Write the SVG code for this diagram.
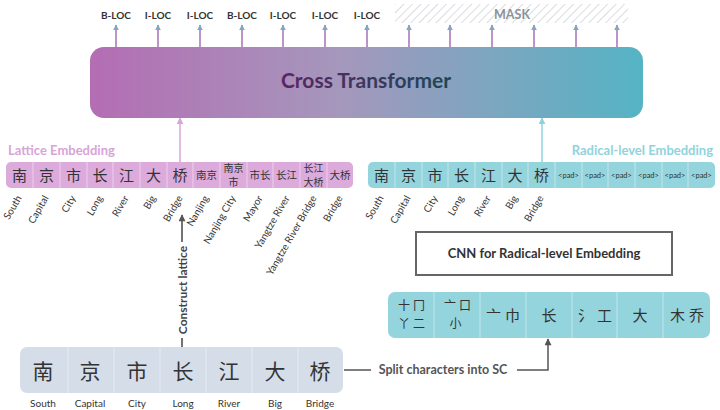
<svg xmlns="http://www.w3.org/2000/svg" width="720" height="410" viewBox="0 0 720 410">
<defs>
<linearGradient id="tfGrad" x1="0" y1="0" x2="1" y2="0">
<stop offset="0" stop-color="#b46db3"/>
<stop offset="0.45" stop-color="#a597bc"/>
<stop offset="1" stop-color="#54b4c4"/>
</linearGradient>
<linearGradient id="tfText" gradientUnits="userSpaceOnUse" x1="275" y1="0" x2="440" y2="0">
<stop offset="0" stop-color="#5e2463"/>
<stop offset="1" stop-color="#1f4658"/>
</linearGradient>
<pattern id="hatch" patternUnits="userSpaceOnUse" width="6" height="6" patternTransform="rotate(45)">
<line x1="0" y1="0" x2="0" y2="6" stroke="#cfd3d8" stroke-width="1.6"/>
</pattern>
<marker id="ahTop" viewBox="0 0 10 10" refX="9" refY="5" markerWidth="6" markerHeight="6" orient="auto" markerUnits="userSpaceOnUse">
<path d="M0,0 L10,5 L0,10 Z" fill="#7ea9bf"/>
</marker>
<marker id="ahPink" viewBox="0 0 10 10" refX="9" refY="5" markerWidth="7" markerHeight="7" orient="auto" markerUnits="userSpaceOnUse">
<path d="M0,0 L10,5 L0,10 Z" fill="#d9a6d8"/>
</marker>
<marker id="ahTeal" viewBox="0 0 10 10" refX="9" refY="5" markerWidth="7" markerHeight="7" orient="auto" markerUnits="userSpaceOnUse">
<path d="M0,0 L10,5 L0,10 Z" fill="#8fd3dc"/>
</marker>
<marker id="ahGrey" viewBox="0 0 10 10" refX="9" refY="5" markerWidth="8" markerHeight="7" orient="auto" markerUnits="userSpaceOnUse">
<path d="M0,0 L10,5 L0,10 Z" fill="#555"/>
</marker>
</defs>
<style>
text{font-family:Lato,"Noto Sans","Noto Sans CJK SC",sans-serif;fill:#333}
.cjk{font-family:"Noto Sans CJK SC",sans-serif;fill:#333;text-anchor:middle}
.tag{font-size:10px;font-weight:bold;text-anchor:middle}
.lab{font-size:10px;text-anchor:end}
.blab{font-size:10px;text-anchor:middle}
.grey{fill:#555;font-weight:bold}
.toparr{stroke:#a672b4;stroke-width:1.5;fill:none}
.div{stroke:#ffffff;stroke-opacity:0.45;stroke-width:1}
.pad{font-size:7.5px;text-anchor:middle}
</style>
<rect width="720" height="410" fill="#ffffff"/>

<g id="mask">
<rect x="395" y="4" width="233" height="19" fill="url(#hatch)"/>
<text x="512" y="19" font-size="12.5" font-weight="bold" text-anchor="middle" style="fill:#8c929a">MASK</text>
</g>

<g id="tags">
<text class="tag" x="116" y="19">B-LOC</text>
<text class="tag" x="158" y="19">I-LOC</text>
<text class="tag" x="200" y="19">I-LOC</text>
<text class="tag" x="242" y="19">B-LOC</text>
<text class="tag" x="283" y="19">I-LOC</text>
<text class="tag" x="325" y="19">I-LOC</text>
<text class="tag" x="367" y="19">I-LOC</text>
</g>

<g id="connectors">
<g class="toparr" marker-end="url(#ahTop)">
<line x1="116" y1="47" x2="116" y2="25"/>
<line x1="158" y1="47" x2="158" y2="25"/>
<line x1="200" y1="47" x2="200" y2="25"/>
<line x1="242" y1="47" x2="242" y2="25"/>
<line x1="283" y1="47" x2="283" y2="25"/>
<line x1="325" y1="47" x2="325" y2="25"/>
<line x1="367" y1="47" x2="367" y2="25"/>
<line x1="409" y1="47" x2="409" y2="25"/>
<line x1="450" y1="47" x2="450" y2="25"/>
<line x1="492" y1="47" x2="492" y2="25"/>
<line x1="534" y1="47" x2="534" y2="25"/>
<line x1="576" y1="47" x2="576" y2="25"/>
<line x1="617" y1="47" x2="617" y2="25"/>
</g>
<line x1="180" y1="162" x2="180" y2="118" stroke="#d9a6d8" stroke-width="1.5" marker-end="url(#ahPink)"/>
<line x1="542" y1="162" x2="542" y2="118" stroke="#8fd3dc" stroke-width="1.5" marker-end="url(#ahTeal)"/>
<line x1="182" y1="347" x2="182" y2="338" stroke="#444" stroke-width="1.5"/>
<line x1="182" y1="242" x2="182" y2="215" stroke="#444" stroke-width="1.5" marker-end="url(#ahGrey)"/>
<line x1="344" y1="370" x2="371" y2="370" stroke="#555" stroke-width="1.5"/>
<polyline points="517,370 548,370 548,339" fill="none" stroke="#555" stroke-width="1.5" marker-end="url(#ahGrey)"/>
</g>

<g id="transformer">
<rect x="90" y="47" width="553" height="71" rx="14" fill="url(#tfGrad)"/>
<text x="366" y="88" font-size="21" font-weight="bold" text-anchor="middle" style="fill:url(#tfText)">Cross Transformer</text>
</g>

<g id="lattice">
<text x="8" y="155" font-size="13" font-weight="bold" style="fill:#d7a5d6">Lattice Embedding</text>
<rect x="6" y="162" width="347" height="26" rx="5" fill="#dcaadb"/>
<g class="div">
<line x1="33" y1="162" x2="33" y2="188"/><line x1="60" y1="162" x2="60" y2="188"/><line x1="87" y1="162" x2="87" y2="188"/><line x1="113" y1="162" x2="113" y2="188"/><line x1="140" y1="162" x2="140" y2="188"/><line x1="167" y1="162" x2="167" y2="188"/><line x1="193" y1="162" x2="193" y2="188"/><line x1="220" y1="162" x2="220" y2="188"/><line x1="247" y1="162" x2="247" y2="188"/><line x1="273" y1="162" x2="273" y2="188"/><line x1="300" y1="162" x2="300" y2="188"/><line x1="327" y1="162" x2="327" y2="188"/>
</g>
<g font-size="15">
<text class="cjk" x="19.5" y="181">南</text><text class="cjk" x="46.5" y="181">京</text><text class="cjk" x="73.5" y="181">市</text><text class="cjk" x="100" y="181">长</text><text class="cjk" x="126.5" y="181">江</text><text class="cjk" x="153.5" y="181">大</text><text class="cjk" x="180" y="181">桥</text>
</g>
<g font-size="10.5">
<text class="cjk" x="206.5" y="179">南京</text>
<text class="cjk" x="260" y="179">市长</text>
<text class="cjk" x="286.5" y="179">长江</text>
<text class="cjk" x="340" y="179">大桥</text>
</g>
<g font-size="10">
<text class="cjk" x="233.5" y="172">南京<tspan x="233.5" dy="13.5">市</tspan></text>
<text class="cjk" x="313.5" y="172">长江<tspan x="313.5" dy="13.5">大桥</tspan></text>
</g>
<g>
<text class="lab" transform="translate(22,198) rotate(-60)">South</text>
<text class="lab" transform="translate(49,198) rotate(-60)">Capital</text>
<text class="lab" transform="translate(76,198) rotate(-60)">City</text>
<text class="lab" transform="translate(103,198) rotate(-60)">Long</text>
<text class="lab" transform="translate(129,198) rotate(-60)">River</text>
<text class="lab" transform="translate(156,198) rotate(-60)">Big</text>
<text class="lab" transform="translate(183,198) rotate(-60)">Bridge</text>
<text class="lab" transform="translate(209,198) rotate(-60)">Nanjing</text>
<text class="lab" transform="translate(236,198) rotate(-60)">Nanjing City</text>
<text class="lab" transform="translate(263,198) rotate(-60)">Mayor</text>
<text class="lab" transform="translate(290,198) rotate(-60)">Yangtze River</text>
<text class="lab" transform="translate(317,198) rotate(-60)">Yangtze River Bridge</text>
<text class="lab" transform="translate(343,198) rotate(-60)">Bridge</text>
</g>
</g>

<g id="radical">
<text x="713" y="155" font-size="13" font-weight="bold" text-anchor="end" style="fill:#8fd3dc">Radical-level Embedding</text>
<rect x="368" y="162" width="347" height="26" rx="5" fill="#94d4dc"/>
<g class="div">
<line x1="395" y1="162" x2="395" y2="188"/><line x1="422" y1="162" x2="422" y2="188"/><line x1="448" y1="162" x2="448" y2="188"/><line x1="475" y1="162" x2="475" y2="188"/><line x1="502" y1="162" x2="502" y2="188"/><line x1="528" y1="162" x2="528" y2="188"/><line x1="555" y1="162" x2="555" y2="188"/><line x1="582" y1="162" x2="582" y2="188"/><line x1="608" y1="162" x2="608" y2="188"/><line x1="635" y1="162" x2="635" y2="188"/><line x1="662" y1="162" x2="662" y2="188"/><line x1="688" y1="162" x2="688" y2="188"/>
</g>
<g font-size="15">
<text class="cjk" x="381.5" y="181">南</text><text class="cjk" x="408.5" y="181">京</text><text class="cjk" x="435" y="181">市</text><text class="cjk" x="461.5" y="181">长</text><text class="cjk" x="488.5" y="181">江</text><text class="cjk" x="515" y="181">大</text><text class="cjk" x="541.5" y="181">桥</text>
</g>
<text class="pad" x="568.5" y="178">&lt;pad&gt;</text>
<text class="pad" x="595" y="178">&lt;pad&gt;</text>
<text class="pad" x="621.5" y="178">&lt;pad&gt;</text>
<text class="pad" x="648.5" y="178">&lt;pad&gt;</text>
<text class="pad" x="675" y="178">&lt;pad&gt;</text>
<text class="pad" x="701.5" y="178">&lt;pad&gt;</text>
<g>
<text class="lab" transform="translate(384,198) rotate(-60)">South</text>
<text class="lab" transform="translate(411,198) rotate(-60)">Capital</text>
<text class="lab" transform="translate(438,198) rotate(-60)">City</text>
<text class="lab" transform="translate(464,198) rotate(-60)">Long</text>
<text class="lab" transform="translate(491,198) rotate(-60)">River</text>
<text class="lab" transform="translate(518,198) rotate(-60)">Big</text>
<text class="lab" transform="translate(544,198) rotate(-60)">Bridge</text>
</g>
</g>

<g id="cnn">
<rect x="416" y="232" width="256" height="43" fill="#ffffff" stroke="#666" stroke-width="2"/>
<text x="544" y="258" font-size="13" font-weight="bold" text-anchor="middle">CNN for Radical-level Embedding</text>
</g>

<g id="sc">
<rect x="388" y="292" width="322" height="46" rx="7" fill="#94d4dc"/>
<g class="div">
<line x1="434" y1="292" x2="434" y2="338"/><line x1="480" y1="292" x2="480" y2="338"/><line x1="526" y1="292" x2="526" y2="338"/><line x1="572" y1="292" x2="572" y2="338"/><line x1="617" y1="292" x2="617" y2="338"/><line x1="663" y1="292" x2="663" y2="338"/>
</g>
<g font-size="12" letter-spacing="3">
<text class="cjk" x="413" y="310">十冂</text><text class="cjk" x="413" y="328">丫二</text>
<text class="cjk" x="459" y="310">亠口</text><text class="cjk" x="457" y="328">小</text>
</g>
<g font-size="15" letter-spacing="4">
<text class="cjk" x="505" y="321">亠巾</text>
<text class="cjk" x="551" y="321">长</text>
<text class="cjk" x="597" y="321">氵工</text>
<text class="cjk" x="642" y="321">大</text>
<text class="cjk" x="689" y="321">木乔</text>
</g>
</g>

<g id="chars">
<rect x="20" y="347" width="323" height="46" rx="7" fill="#d5dde8"/>
<g class="div">
<line x1="68" y1="347" x2="68" y2="393"/><line x1="114" y1="347" x2="114" y2="393"/><line x1="160" y1="347" x2="160" y2="393"/><line x1="206" y1="347" x2="206" y2="393"/><line x1="252" y1="347" x2="252" y2="393"/><line x1="298" y1="347" x2="298" y2="393"/>
</g>
<g font-size="21">
<text class="cjk" x="43" y="379">南</text><text class="cjk" x="90" y="379">京</text><text class="cjk" x="137" y="379">市</text><text class="cjk" x="183" y="379">长</text><text class="cjk" x="229" y="379">江</text><text class="cjk" x="275" y="379">大</text><text class="cjk" x="320" y="379">桥</text>
</g>
<text class="blab" x="43" y="407">South</text>
<text class="blab" x="90" y="407">Capital</text>
<text class="blab" x="137" y="407">City</text>
<text class="blab" x="183" y="407">Long</text>
<text class="blab" x="229" y="407">River</text>
<text class="blab" x="275" y="407">Big</text>
<text class="blab" x="320" y="407">Bridge</text>
</g>

<g id="construct">
<text transform="translate(186.5,290) rotate(-90)" font-size="12" font-weight="bold" text-anchor="middle" style="fill:#444">Construct lattice</text>
</g>

<g id="split">
<text x="443" y="374" font-size="12.5" text-anchor="middle" class="grey">Split characters into SC</text>
</g>
</svg>
